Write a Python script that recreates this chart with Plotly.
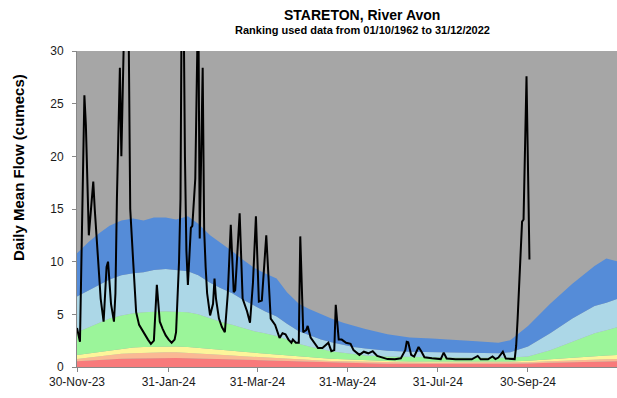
import pandas as pd
import plotly.graph_objects as go

START = pd.Timestamp("2023-11-30")

# Daily mean flow, key readings (days after 30-Nov-23, cumecs)
flow_day = [0, 1, 2, 5, 6, 8, 9, 11, 12, 14, 16, 18, 20, 21, 22, 23, 25, 26, 27, 29,
            30, 32, 33, 34, 35, 36, 38, 40, 42, 44, 46, 48, 50, 52, 54, 55, 56, 58, 60,
            62, 64, 66, 67, 69, 70, 71, 72, 73, 74, 75, 77, 78, 80, 82, 83, 85, 86, 87,
            88, 90, 92, 93, 94, 96, 98, 100, 102, 104, 106, 107, 110, 112, 115, 117, 119,
            121, 123, 125, 128, 131, 134, 137, 139, 141, 143, 145, 146, 148, 150, 151,
            153, 155, 156, 158, 160, 163, 166, 170, 172, 174, 175, 177, 179, 182, 185,
            187, 191, 194, 197, 200, 203, 207, 210, 215, 219, 222, 223, 224, 226, 228,
            231, 233, 235, 240, 244, 246, 248, 250, 256, 262, 265, 267, 271, 273, 278,
            281, 283, 285, 288, 290, 296, 297, 298, 301, 302, 304, 306]
flow_cumecs = [3.7, 3.0, 2.4, 25.8, 23.0, 12.5, 14.5, 17.6, 15.0, 10.4, 6.5, 4.3, 9.5, 10.0,
               8.0, 6.0, 4.3, 7.0, 16.0, 28.4,
               20.0, 36.0, 40.0, 38.0, 31.0, 15.0, 10.0, 5.2, 4.0, 3.5, 3.1, 2.6, 2.2, 2.5,
               7.8, 5.8, 4.3, 3.6, 3.0,
               2.6, 2.3, 2.6, 3.3, 10.0, 16.0, 40.0, 36.0, 20.0, 11.0, 7.8, 13.2, 13.4, 17.9,
               36.0, 12.2, 28.4, 13.0, 9.5,
               7.0, 4.9, 6.0, 8.4, 6.5, 4.6, 3.8, 3.3, 7.0, 13.5, 7.1, 7.3, 14.6, 6.5, 5.3,
               4.2, 8.0,
               14.3, 6.2, 6.3, 12.5, 4.6, 4.0, 2.75, 3.2, 3.1, 2.6, 2.3, 2.6, 2.3, 2.3, 12.4,
               3.3, 3.5, 3.9, 2.8, 2.4, 1.8, 1.8, 2.3, 1.5, 1.6, 5.9, 2.6, 2.6, 2.3, 2.2,
               1.6, 1.15, 1.45, 1.3, 1.5, 1.05, 0.92, 0.75, 0.73, 0.82, 1.6, 2.4, 2.35, 1.15,
               0.98,
               1.9, 1.45, 0.92, 0.82, 0.73, 0.75, 1.36, 0.8, 0.73, 0.73, 0.8, 0.73, 1.05,
               0.73, 0.73,
               1.0, 0.75, 0.9, 1.45, 0.8, 0.75, 2.0, 4.6, 13.8, 14.0, 27.6, 10.2]

# Flow-ranking band thresholds through the year (days after 30-Nov-23, cumecs)
band_day = [0, 8, 15, 22, 30, 38, 45, 52, 60, 67, 75, 82, 90, 97, 105, 112, 120, 127, 135,
            142, 150, 157, 165, 172, 180, 187, 195, 210, 225, 240, 255, 270, 285, 293,
            305, 320, 335, 350, 358, 366]
exceptional_low = [0.55, 0.62, 0.68, 0.73, 0.78, 0.81, 0.83, 0.84, 0.85, 0.85, 0.83, 0.81,
                   0.78, 0.75, 0.72, 0.68, 0.65, 0.62, 0.6, 0.56, 0.52, 0.48, 0.45, 0.42,
                   0.4, 0.37, 0.35, 0.32, 0.3, 0.3, 0.3, 0.3, 0.3, 0.3,
                   0.33, 0.4, 0.46, 0.52, 0.54, 0.56]
notably_low = [0.75, 0.88, 1.0, 1.12, 1.25, 1.3, 1.35, 1.38, 1.4, 1.4, 1.35, 1.3,
               1.25, 1.18, 1.1, 1.02, 0.95, 0.9, 0.85, 0.78, 0.72, 0.67, 0.62, 0.58,
               0.55, 0.51, 0.48, 0.44, 0.42, 0.41, 0.41, 0.41, 0.41, 0.42,
               0.46, 0.55, 0.65, 0.72, 0.74, 0.76]
below_normal = [1.15, 1.3, 1.45, 1.6, 1.75, 1.84, 1.9, 1.93, 1.95, 1.94, 1.9, 1.83,
                1.75, 1.65, 1.55, 1.45, 1.35, 1.28, 1.2, 1.1, 1.0, 0.92, 0.85, 0.78,
                0.72, 0.67, 0.62, 0.56, 0.53, 0.52, 0.52, 0.52, 0.52, 0.53,
                0.6, 0.75, 0.92, 1.05, 1.1, 1.15]
normal = [3.3, 3.8, 4.2, 4.6, 4.9, 5.1, 5.2, 5.25, 5.3, 5.25, 5.2, 5.0,
          4.6, 4.3, 4.0, 3.7, 3.4, 3.2, 2.95, 2.6, 2.2, 1.95, 1.7, 1.5,
          1.35, 1.2, 1.1, 1.0, 0.95, 0.92, 0.9, 0.88, 0.88, 0.9,
          1.0, 1.6, 2.4, 3.2, 3.5, 3.8]
above_normal = [6.7, 7.3, 7.8, 8.3, 8.7, 8.9, 9.0, 9.2, 9.3, 9.2, 9.1, 8.7,
                8.0, 7.5, 7.0, 6.4, 5.8, 5.3, 4.8, 4.1, 3.4, 3.0, 2.6, 2.35,
                2.1, 1.9, 1.75, 1.55, 1.45, 1.4, 1.38, 1.32, 1.3, 1.4,
                1.95, 3.2, 4.6, 5.8, 6.1, 6.5]
notably_high = [10.8, 11.9, 12.7, 13.4, 13.9, 14.1, 13.9, 14.2, 14.2, 14.0, 14.3, 13.6,
                12.5, 11.8, 11.0, 10.2, 9.4, 8.9, 8.4, 7.1, 6.0, 5.5, 5.0, 4.6,
                4.2, 3.9, 3.6, 3.1, 2.8, 2.7, 2.6, 2.45, 2.3, 2.55,
                3.9, 6.0, 7.9, 9.6, 10.3, 10.0]

tick_dates = ["2023-11-30", "2024-01-31", "2024-03-31", "2024-05-31", "2024-07-31", "2024-09-30"]
tick_text = ["30-Nov-23", "31-Jan-24", "31-Mar-24", "31-May-24", "31-Jul-24", "30-Sep-24"]
y_ticks = [0, 5, 10, 15, 20, 25, 30]

to_dates = lambda days: [START + pd.Timedelta(days=d) for d in days]
band_x = to_dates(band_day)
flow_x = to_dates(flow_day)

fig = go.Figure()

bands = [
    (exceptional_low, "#f87a7b", "tozeroy"),
    (notably_low, "#fab994", "tonexty"),
    (below_normal, "#fdf59a", "tonexty"),
    (normal, "#9bf59a", "tonexty"),
    (above_normal, "#acd7e7", "tonexty"),
    (notably_high, "#558cd8", "tonexty"),
]
for vals, colour, mode in bands:
    fig.add_trace(go.Scatter(x=band_x, y=vals, mode="lines", line=dict(width=0, color=colour),
                             fill=mode, fillcolor=colour, hoverinfo="skip", showlegend=False))

fig.add_trace(go.Scatter(x=flow_x, y=flow_cumecs, mode="lines",
                         line=dict(color="black", width=2), showlegend=False))

font_main = "Liberation Sans, Arial, sans-serif"

fig.update_layout(
    width=617, height=398,
    margin=dict(l=77, r=0, t=51, b=31),
    paper_bgcolor="white",
    plot_bgcolor="#a6a6a6",
    font=dict(family=font_main, size=12, color="#1a1a1a"),
    xaxis=dict(
        range=[START, START + pd.Timedelta(hours=365.2 * 24)],
        tickvals=pd.to_datetime(tick_dates), ticktext=tick_text,
        ticks="outside", ticklen=4, tickcolor="#888", showgrid=False,
        showline=True, linecolor="#888", linewidth=1, zeroline=False,
        tickfont=dict(size=12),
    ),
    yaxis=dict(
        range=[0, 30], tickvals=y_ticks, ticks="outside", ticklen=4, tickcolor="#888",
        showgrid=False, showline=True, linecolor="#888", linewidth=1, zeroline=False,
        tickfont=dict(size=12), ticklabelstandoff=6,
    ),
    annotations=[
        dict(text="<b>STARETON, River Avon</b>", xref="paper", yref="paper",
             x=(362 - 77) / 540, y=1 + 36 / 316, xanchor="center", yanchor="middle",
             showarrow=False, font=dict(family=font_main, size=14, color="black")),
        dict(text="<b>Ranking used data from 01/10/1962 to 31/12/2022</b>", xref="paper",
             yref="paper", x=(362 - 77) / 540, y=1 + 21 / 316, xanchor="center",
             yanchor="middle", showarrow=False,
             font=dict(family=font_main, size=11, color="black")),
        dict(text="<b>Daily Mean Flow (cumecs)</b>", xref="paper", yref="paper",
             x=(18 - 77) / 540, y=(367 - 168) / 316, xanchor="center", yanchor="middle",
             textangle=-90, showarrow=False,
             font=dict(family=font_main, size=15, color="black")),
    ],
)

fig.write_html("out.html")
